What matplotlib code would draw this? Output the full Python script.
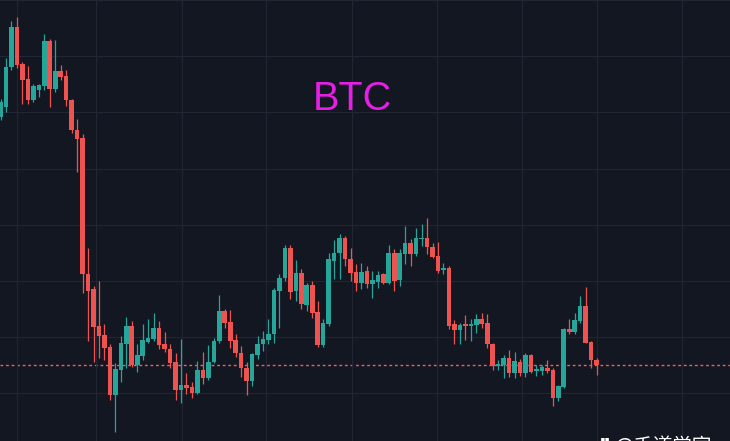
import matplotlib
matplotlib.use("Agg")
import matplotlib.pyplot as plt
import numpy as np

plt.rcParams["font.family"] = ["Liberation Sans", "Noto Sans CJK SC", "DejaVu Sans"]

# ============================================================
# K 线数据（相对价格单位，按图片读取）
# ============================================================
opens = [326, 336, 376, 416, 379, 364, 343, 353, 357, 402,
         354, 372, 367, 343, 313, 305, 168, 153, 116, 107,
         95, 46, 71, 98, 116, 76, 85, 100, 103, 114,
         98, 93, 79, 51, 56, 54, 48, 71, 63, 79,
         101, 131, 120, 102, 89, 73, 60, 86, 98, 102,
         108, 151, 164, 194, 151, 169, 137, 157, 130, 97,
         118, 181, 189, 204, 183, 170, 159, 171, 158, 160,
         168, 159, 189, 162, 188, 199, 188, 203, 204, 195,
         186, 172, 174, 118, 112, 118, 116, 117, 123, 119,
         98, 75, 76, 83, 68, 79, 68, 86, 70, 70,
         73, 71, 43, 54, 113, 110, 121, 136, 100, 81]
highs = [344, 385, 422, 426, 381, 377, 359, 359, 409, 404,
         403, 378, 373, 344, 324, 309, 194, 156, 161, 118,
         98, 78, 106, 125, 121, 98, 118, 123, 129, 121,
         110, 98, 88, 103, 68, 59, 80, 90, 97, 104,
         147, 133, 132, 108, 96, 79, 88, 106, 111, 123,
         154, 168, 197, 197, 182, 173, 159, 161, 141, 123,
         189, 202, 208, 206, 194, 178, 179, 176, 171, 171,
         169, 197, 193, 193, 216, 203, 214, 218, 224, 199,
         200, 179, 176, 122, 119, 127, 123, 128, 129, 128,
         99, 81, 86, 92, 90, 82, 89, 87, 76, 76,
         81, 73, 56, 114, 123, 129, 146, 155, 101, 83]
lows = [323, 331, 373, 375, 339, 339, 341, 346, 353, 336,
        351, 363, 337, 310, 271, 149, 101, 79, 83, 81,
        41, 9, 59, 73, 74, 69, 81, 99, 101, 93,
        90, 73, 41, 38, 47, 43, 47, 57, 61, 78,
        99, 114, 94, 84, 64, 46, 55, 82, 91, 98,
        99, 114, 161, 143, 141, 133, 131, 124, 95, 95,
        116, 163, 163, 176, 161, 151, 153, 154, 144, 154,
        158, 158, 151, 156, 178, 176, 186, 196, 188, 184,
        169, 168, 113, 98, 98, 102, 101, 109, 114, 94,
        71, 71, 63, 64, 63, 65, 64, 68, 65, 66,
        68, 35, 40, 53, 108, 108, 119, 99, 73, 66]
closes = [341, 376, 416, 378, 363, 343, 357, 358, 402, 354,
          372, 366, 343, 313, 304, 168, 151, 115, 106, 94,
          46, 72, 99, 116, 76, 86, 102, 104, 114, 97,
          93, 78, 51, 56, 53, 48, 71, 63, 79, 101,
          131, 119, 101, 88, 73, 60, 87, 98, 103, 108,
          152, 164, 194, 150, 169, 138, 157, 129, 97, 119,
          183, 189, 204, 183, 169, 159, 170, 158, 162, 167,
          159, 189, 161, 189, 199, 188, 204, 204, 195, 185,
          171, 174, 116, 112, 117, 116, 118, 123, 118, 98,
          75, 77, 83, 68, 80, 68, 86, 69, 72, 74,
          70, 43, 55, 113, 110, 122, 136, 99, 81, 76]

# 网格位置（K 线序号 / 价格）
x_grid = [3.1, 17.4, 33.1, 48.6, 64.2, 79.9, 95.4, 109.1, 124.7]
y_grid = [48, 104.5, 161, 217.5, 274, 330.5, 387, 443.5]

# ============================================================
# 颜色
# ============================================================
BG = "#131722"
GRID = "#222634"
UP = "#26a69a"
DOWN = "#ef5350"

fig = plt.figure(figsize=(7.3, 4.41), dpi=100, facecolor=BG)
ax = fig.add_axes([0, 0, 1, 1])
ax.set_facecolor(BG)

x = np.arange(len(opens))
o = np.array(opens, dtype=float)
h = np.array(highs, dtype=float)
l = np.array(lows, dtype=float)
c = np.array(closes, dtype=float)
colors = np.where(c >= o, UP, DOWN)

# 影线
ax.vlines(x, l, h, colors=colors, linewidth=0.9, zorder=2)
# 实体
body_h = np.maximum(np.abs(c - o), 1.2)
body_b = np.minimum(o, c)
ax.bar(x, body_h, bottom=body_b, width=0.84, color=colors, linewidth=0, zorder=3)

# 最新价虚线
ax.axhline(closes[-1], color="#f0605c", linestyle=(0, (2, 2)), linewidth=1.0, zorder=1)

ax.set_xlim(-0.1, 133.4)
ax.set_ylim(0, 441)
ax.set_xticks(x_grid)
ax.set_yticks(y_grid)
ax.grid(True, color=GRID, linewidth=0.8, zorder=0)
ax.tick_params(length=0, labelbottom=False, labelleft=False)
for s in ax.spines.values():
    s.set_visible(False)

ax.text(0.483, 0.775, "BTC", transform=ax.transAxes, fontsize=28.5, color="#e61ee6",
        ha="center", va="center")
ax.text(0.822, -0.012, "❞ @千道学官", transform=ax.transAxes, fontsize=14,
        color="white", ha="left", va="center",
        family=["Noto Sans CJK SC", "DejaVu Sans"])

fig.savefig("out.png", dpi=100, facecolor=BG)
